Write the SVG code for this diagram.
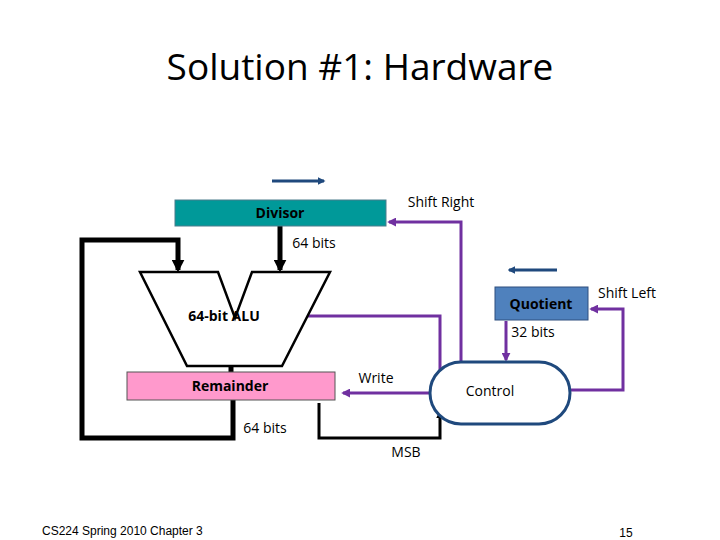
<svg xmlns="http://www.w3.org/2000/svg" width="720" height="540" viewBox="0 0 720 540">
<style>
text{font-family:"Open Sans","Liberation Sans",sans-serif;fill:#000}
.b{font-weight:bold;font-size:14px}
.p{stroke:#7030a0;stroke-width:3;fill:none}
.k{stroke:#000;stroke-width:5;fill:none}
.bl{stroke:#1f497d;stroke-width:3;fill:none}
</style>
<defs>
<marker id="pa" viewBox="0 0 10 10" refX="8" refY="5" markerWidth="3" markerHeight="3" orient="auto"><path d="M0,0L10,5L0,10z" fill="#7030a0"/></marker>
<marker id="ka" viewBox="0 0 10 10" refX="8" refY="5" markerWidth="2.6" markerHeight="2.6" orient="auto"><path d="M0,0L10,5L0,10z" fill="#000"/></marker>
<marker id="ba" viewBox="0 0 10 10" refX="8" refY="5" markerWidth="2.5" markerHeight="2.5" orient="auto"><path d="M0,0L10,5L0,10z" fill="#1f497d"/></marker>
</defs>
<rect width="720" height="540" fill="#fff"/>
<text x="360" y="80" font-size="37" text-anchor="middle" style="font-family:'Open Sans','Liberation Sans',sans-serif">Solution #1: Hardware</text>
<g id="connectors">
<path class="bl" d="M272,181H324" marker-end="url(#ba)"/>
<path class="bl" d="M557,270H509" marker-end="url(#ba)"/>
<path class="k" d="M280,226V270" marker-end="url(#ka)"/>
<path class="k" d="M233,400V438H82V240H178V270" marker-end="url(#ka)"/>
<path class="k" d="M231,366V396" marker-end="url(#ka)"/>
<path stroke="#000" stroke-width="3" fill="none" d="M319,403V438H440V412" marker-end="url(#ka)"/>
<path class="p" d="M461,362V222H389" marker-end="url(#pa)"/>
<path class="p" d="M440,375V316H298" marker-end="url(#pa)"/>
<path class="p" d="M430,393H343" marker-end="url(#pa)"/>
<path class="p" d="M506,321V360" marker-end="url(#pa)"/>
<path class="p" d="M570,390H623V309H591" marker-end="url(#pa)"/>
</g>
<g id="divisor"><rect x="175" y="200" width="211" height="26" fill="#009999" stroke="#4a7c8c"/><text class="b" x="280" y="218" text-anchor="middle">Divisor</text></g>
<g id="alu"><path d="M140,272H218L235,318L252,272H330L282,366H187Z" fill="#fff" stroke="#000" stroke-width="2.5"/><text class="b" x="224" y="321" text-anchor="middle">64-bit ALU</text></g>
<g id="remainder"><rect x="127" y="372" width="208" height="28" fill="#ff99cc" stroke="#555"/><text class="b" x="230" y="391" text-anchor="middle">Remainder</text></g>
<g id="quotient"><rect x="495" y="287" width="93" height="33" fill="#4f81bd" stroke="#2f4f7f"/><text class="b" x="541" y="309" text-anchor="middle">Quotient</text></g>
<g id="control"><rect x="430" y="362" width="140" height="62" rx="31" fill="#fff" stroke="#1f497d" stroke-width="3"/><text x="490" y="396" font-size="14" text-anchor="middle">Control</text></g>
<text x="441" y="207" font-size="14" text-anchor="middle">Shift Right</text>
<text x="314" y="248" font-size="14" text-anchor="middle">64 bits</text>
<text x="627" y="298" font-size="14" text-anchor="middle">Shift Left</text>
<text x="533" y="337" font-size="14" text-anchor="middle">32 bits</text>
<text x="376" y="383" font-size="14" text-anchor="middle">Write</text>
<text x="265" y="433" font-size="14" text-anchor="middle">64 bits</text>
<text x="406" y="457" font-size="14" text-anchor="middle">MSB</text>
<text x="42" y="535" font-size="12" style="font-family:'Liberation Sans',sans-serif">CS224 Spring 2010 Chapter 3</text>
<text x="626" y="537" font-size="12" text-anchor="middle" style="font-family:'Liberation Sans',sans-serif">15</text>
</svg>
